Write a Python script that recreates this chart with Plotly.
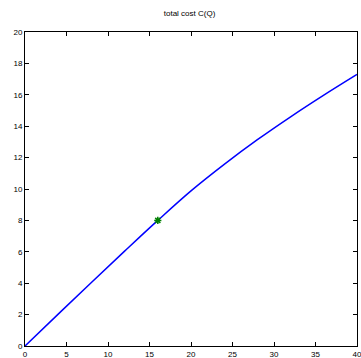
import plotly.graph_objects as go

# Data
q_values = [0, 4, 8, 12, 16, 20, 24, 28, 32, 36, 40]
cost_values = [0, 2.03, 4.05, 6.04, 8.0, 9.88, 11.57, 13.14, 14.6, 15.98, 17.3]
point_q = [16]
point_cost = [8]
x_ticks = [0, 5, 10, 15, 20, 25, 30, 35, 40]
y_ticks = [0, 2, 4, 6, 8, 10, 12, 14, 16, 18, 20]

fig = go.Figure()
fig.add_trace(go.Scatter(
    x=q_values, y=cost_values, mode="lines",
    line=dict(color="#0000ff", width=1.5, shape="spline", smoothing=1.0),
    showlegend=False, hoverinfo="skip",
))
fig.add_trace(go.Scatter(
    x=point_q, y=point_cost, mode="markers",
    marker=dict(symbol="asterisk-open", size=6, color="#008000",
                line=dict(color="#008000", width=1.5)),
    showlegend=False, hoverinfo="skip",
))

axis_common = dict(
    showgrid=False, zeroline=False, showline=True, linecolor="black",
    linewidth=1, mirror="ticks", ticks="inside", ticklen=4,
    tickcolor="black", tickwidth=1, automargin=False,
    ticklabeloverflow="allow",
    tickfont=dict(family="Liberation Sans, Arial, sans-serif", size=8, color="black"),
)

fig.update_layout(
    width=361, height=358,
    margin=dict(l=25, r=4, t=32, b=12),
    paper_bgcolor="white", plot_bgcolor="white",
    title=dict(text="total cost C(Q)", x=0.525, xanchor="center", y=0.962, yanchor="middle",
               font=dict(family="Liberation Sans, Arial, sans-serif", size=8, color="black")),
    xaxis=dict(range=[0, 40], tickvals=x_ticks, **axis_common),
    yaxis=dict(range=[0, 20], tickvals=y_ticks, **axis_common),
)

fig.write_html("out.html")
